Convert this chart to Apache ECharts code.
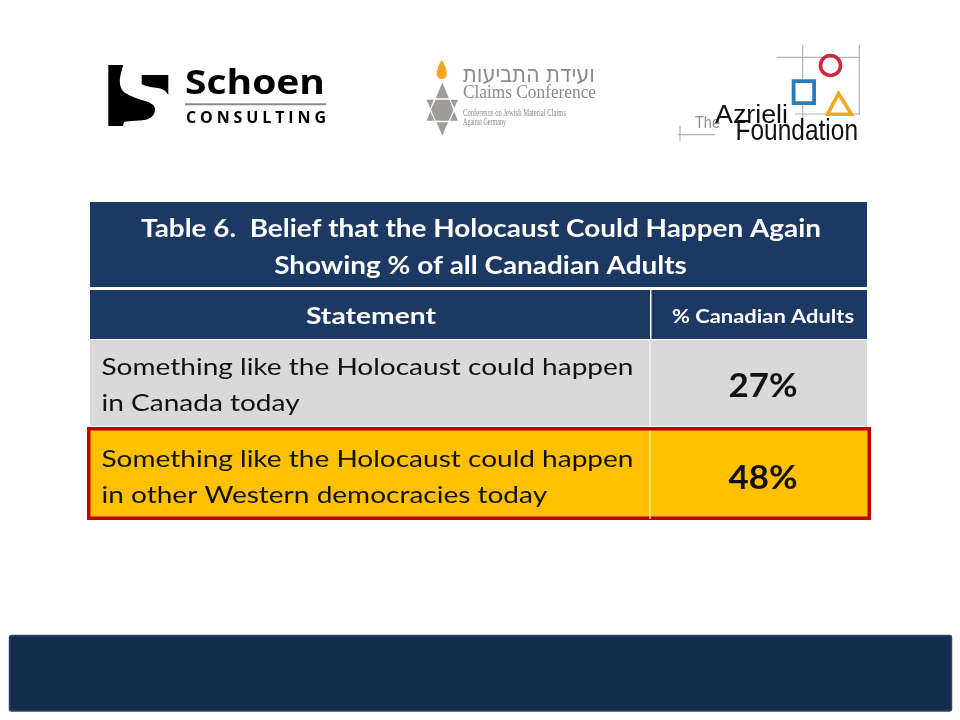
<!DOCTYPE html>
<html>
<head>
<meta charset="utf-8">
<script src="https://cdn.jsdelivr.net/npm/echarts@6/dist/echarts.min.js"></script>
<style>
html,body{margin:0;padding:0;background:#fff;}
#main{width:960px;height:720px;}
</style>
</head>
<body>
<div id="main"></div>
<script>
// ---------------- data ----------------
const titleLines = ['Table 6.  Belief that the Holocaust Could Happen Again', 'Showing % of all Canadian Adults'];
const headerLabels = ['Statement', '% Canadian Adults'];
const statements = [
  'Something like the Holocaust could happen\nin Canada today',
  'Something like the Holocaust could happen\nin other Western democracies today'
];
const percentages = [27, 48];
const highlighted = [0, 1];

// ---------------- helpers (layout only) ----------------
const NAVY = '#1c3963';
const BODY_FONT = 'Lato';
const mctx = document.createElement('canvas').getContext('2d');
function metrics(text, weight, size, family) {
  mctx.font = weight + ' ' + size + 'px ' + family;
  mctx.textBaseline = 'middle';
  return mctx.measureText(text);
}
function fit(o) {
  const ref = o.capRef || 'H';
  const wt = o.weight || 'normal';
  const m100 = metrics(ref, wt, 100, o.family);
  const capPer = (m100.actualBoundingBoxAscent + m100.actualBoundingBoxDescent) / 100;
  const size = o.cap / capPer;
  const mc = metrics(ref, wt, size, o.family);
  const dy = (mc.actualBoundingBoxDescent - mc.actualBoundingBoxAscent) / 2;
  let sx = 1;
  if (o.refWidth) {
    const w = metrics(o.refText || o.text, wt, size, o.family).width;
    sx = o.refWidth / w;
  }
  return {size, sx, dy};
}
function txt(o) {
  const f = fit(o);
  return {
    type: 'text', x: o.x, y: o.y - f.dy, scaleX: f.sx, originX: 0, originY: 0, silent: true, z: o.z || 10,
    style: {
      text: o.text, fill: o.color || '#000', fontSize: f.size, fontFamily: o.family,
      fontWeight: o.weight || 'normal', align: o.align || 'left', verticalAlign: 'middle'
    }
  };
}
function spaced(o) {
  const f = fit({text: o.text, cap: o.cap, family: o.family, weight: o.weight});
  const letters = o.text.split('');
  const ws = letters.map(c => metrics(c, o.weight, f.size, o.family).width);
  const total = ws.reduce((a, b) => a + b, 0);
  const gap = (o.width - total) / (letters.length - 1);
  let x = o.x; const out = [];
  letters.forEach((c, i) => {
    out.push({type: 'text', x: x, y: o.y - f.dy, silent: true, z: 10,
      style: {text: c, fill: o.color, fontSize: f.size, fontFamily: o.family, fontWeight: o.weight, align: 'left', verticalAlign: 'middle'}});
    x += ws[i] + gap;
  });
  return out;
}
// outline builder: segments of ['L',x,y] or ['Q',cx,cy,x,y]
function outline(start, segs) {
  const pts = [start.slice()];
  let cur = start.slice();
  segs.forEach(s => {
    if (s[0] === 'L') { cur = [s[1], s[2]]; pts.push(cur); }
    else {
      for (let t = 1; t <= 12; t++) {
        const u = t / 12, a = (1 - u) * (1 - u), b = 2 * u * (1 - u), c = u * u;
        pts.push([a * cur[0] + b * s[1] + c * s[3], a * cur[1] + b * s[2] + c * s[4]]);
      }
      cur = [s[3], s[4]];
    }
  });
  return pts;
}

// ---------------- logos & frame ----------------
const graphics = [];
// Schoen Consulting
graphics.push({type: 'polygon', silent: true, shape: {points: outline([108.3, 65], [
  ['L', 123.3, 65], ['Q', 121, 72, 120, 78], ['Q', 119, 86, 123, 91], ['Q', 128, 96, 145, 101],
  ['Q', 156, 104, 155, 111], ['Q', 153, 120, 140, 120.5], ['Q', 128, 121, 124, 122], ['L', 123, 126], ['L', 108.3, 126]])},
  style: {fill: '#000'}});
graphics.push({type: 'polygon', silent: true, shape: {points: outline([141.7, 75], [
  ['L', 168.3, 75], ['L', 168.3, 95], ['Q', 165, 89, 158, 88], ['Q', 145, 86.5, 141.7, 84]])},
  style: {fill: '#000'}});
graphics.push(txt({text: 'Schoen', x: 185, y: 82, cap: 25, refWidth: 140, family: "'Open Sans'", weight: 'bold', color: '#000'}));
graphics.push({type: 'line', silent: true, shape: {x1: 185, y1: 104.3, x2: 326, y2: 104.3}, style: {stroke: '#8a8a8a', lineWidth: 2}});
spaced({text: 'CONSULTING', x: 186, y: 117, cap: 11.5, width: 140, family: "'Open Sans'", weight: 'bold', color: '#000'}).forEach(g => graphics.push(g));

// Claims Conference
graphics.push({type: 'polygon', silent: true, shape: {points: outline([441.7, 60], [
  ['Q', 447, 68, 446.7, 74], ['Q', 446, 79, 441.7, 79], ['Q', 437.5, 79, 436.8, 74], ['Q', 436.5, 68, 441.7, 60]])},
  style: {fill: '#f4a51c'}});
const upTri = [[442.3, 80.7], [459, 121.5], [425.5, 121.5]];
const dnTri = [[425.5, 99], [459, 99], [442.3, 137]];
graphics.push({type: 'polygon', silent: true, shape: {points: upTri}, style: {fill: '#a09d98'}});
graphics.push({type: 'polygon', silent: true, shape: {points: dnTri}, style: {fill: '#a09d98'}});
graphics.push({type: 'polygon', silent: true, shape: {points: upTri}, style: {fill: 'none', stroke: '#fff', lineWidth: 1.3}});
graphics.push({type: 'polygon', silent: true, shape: {points: dnTri}, style: {fill: 'none', stroke: '#fff', lineWidth: 1.3}});
graphics.push(txt({text: 'ועידת התביעות', x: 463, y: 75, cap: 13, capRef: 'ה', refWidth: 132, family: "'DejaVu Sans'", color: '#8c8a86'}));
graphics.push(txt({text: 'Claims Conference', x: 463, y: 91.5, cap: 12.5, refWidth: 133, family: "'Liberation Serif'", color: '#8c8a86'}));
graphics.push(txt({text: 'Conference on Jewish Material Claims', x: 463, y: 112.7, cap: 6.5, refWidth: 103, family: "'Liberation Serif'", color: '#8c8a86'}));
graphics.push(txt({text: 'Against Germany', x: 463, y: 121.5, cap: 6.5, refWidth: 43, family: "'Liberation Serif'", color: '#8c8a86'}));

// Azrieli Foundation
[[776.7, 57.3, 859, 57.3], [795, 114, 860, 114], [802.7, 45, 802.7, 125], [859.3, 45, 859.3, 115],
 [678, 134.7, 715, 134.7], [680, 126, 680, 141]].forEach(l => graphics.push({type: 'line', silent: true,
  shape: {x1: l[0], y1: l[1], x2: l[2], y2: l[3]}, style: {stroke: '#b3b3b3', lineWidth: 1.2}}));
graphics.push({type: 'circle', silent: true, shape: {cx: 830.5, cy: 65.5, r: 10}, style: {fill: 'none', stroke: '#d2253f', lineWidth: 3.6}});
graphics.push({type: 'rect', silent: true, shape: {x: 793.6, y: 81.2, width: 20.5, height: 21.9}, style: {fill: '#fff', stroke: '#2b7bb8', lineWidth: 3.8}});
graphics.push({type: 'polygon', silent: true, shape: {points: [[838.5, 93.5], [851.5, 114.3], [827.5, 114.3]]}, style: {fill: 'none', stroke: '#f3a71f', lineWidth: 3.6}});
graphics.push(txt({text: 'The', x: 695, y: 122, cap: 11.7, refWidth: 25, family: "'Liberation Sans'", color: '#8f8f8f'}));
graphics.push(txt({text: 'Azrieli', x: 715, y: 114, cap: 18, refWidth: 73, family: "'Liberation Sans'", color: '#111'}));
graphics.push(txt({text: 'Foundation', x: 735.5, y: 129.7, cap: 20, refWidth: 122.5, family: "'Liberation Sans'", color: '#111'}));

// Table title & header
graphics.push({type: 'rect', silent: true, shape: {x: 90, y: 202, width: 777, height: 85}, style: {fill: NAVY}});
graphics.push({type: 'rect', silent: true, shape: {x: 90, y: 290, width: 560, height: 49}, style: {fill: NAVY}});
graphics.push({type: 'rect', silent: true, shape: {x: 651.5, y: 290, width: 215.5, height: 49}, style: {fill: NAVY}});
graphics.push(txt({text: titleLines[0], x: 481, y: 228, cap: 18, refText: titleLines[0], refWidth: 680, family: BODY_FONT, weight: 'bold', color: '#fff', align: 'center'}));
graphics.push(txt({text: titleLines[1], x: 480.5, y: 265, cap: 18, refText: titleLines[0], refWidth: 680, family: BODY_FONT, weight: 'bold', color: '#fff', align: 'center'}));
graphics.push(txt({text: headerLabels[0], x: 371, y: 315, cap: 16, refWidth: 130, family: BODY_FONT, weight: 'bold', color: '#fff', align: 'center'}));
graphics.push(txt({text: headerLabels[1], x: 763, y: 315.5, cap: 14, refWidth: 182, family: BODY_FONT, weight: 'bold', color: '#fff', align: 'center'}));

// Bottom banner
graphics.push({type: 'rect', silent: true, shape: {x: 9.5, y: 635.5, width: 942, height: 75.5, r: 2}, style: {fill: '#132e4d', stroke: '#2c4769', lineWidth: 1.5}});

// ---------------- body rows (custom series on category axis) ----------------
const COL_FRAC = (650 - 90) / 777;
const stmtFit = fit({text: 'Something like the Holocaust could happen', cap: 17, refWidth: 532, family: BODY_FONT});
const pctFit = fit({text: '27%', cap: 24, refWidth: 69, family: BODY_FONT, weight: 'bold'});

function renderRow(params, api) {
  const i = api.value(0);
  const cs = params.coordSys;
  const c = api.coord([0, i]);
  const bandH = api.size([0, 1])[1];
  const top = c[1] - bandH / 2;
  const mid = c[1];
  const x0 = cs.x, w = cs.width;
  const splitX = x0 + w * COL_FRAC;
  const hl = api.value(2) === 1;
  const children = [];
  if (hl) {
    children.push({type: 'rect', shape: {x: x0 - 1.25, y: top - 1.25, width: w + 3.5, height: bandH - 2.5},
      style: {fill: '#ffc000', stroke: '#c00000', lineWidth: 3.5}});
    children.push({type: 'line', shape: {x1: splitX, y1: top + 1, x2: splitX, y2: top + bandH - 3}, style: {stroke: '#fff2c6', lineWidth: 1.2}});
  } else {
    children.push({type: 'rect', shape: {x: x0, y: top + 2, width: w, height: bandH - 6}, style: {fill: '#d9d9d9'}});
    children.push({type: 'line', shape: {x1: splitX, y1: top + 2, x2: splitX, y2: top + bandH - 4}, style: {stroke: '#f2f2f2', lineWidth: 1.5}});
  }
  const lines = statements[i].split('\n');
  const offs = [-18, 18.5];
  lines.forEach((ln, k) => {
    children.push({type: 'text', x: x0 + 11.5, y: mid + offs[k] - stmtFit.dy, scaleX: stmtFit.sx, originX: 0, originY: 0,
      style: {text: ln, fill: '#111', fontSize: stmtFit.size, fontFamily: BODY_FONT, fontWeight: 'normal', align: 'left', verticalAlign: 'middle'}});
  });
  children.push({type: 'text', x: (splitX + x0 + w) / 2 + 4.5, y: mid + 1 - pctFit.dy, scaleX: pctFit.sx, originX: 0, originY: 0,
    style: {text: api.value(1) + '%', fill: '#111', fontSize: pctFit.size, fontFamily: BODY_FONT, fontWeight: 'bold', align: 'center', verticalAlign: 'middle'}});
  return {type: 'group', children};
}

const chart = echarts.init(document.getElementById('main'), null, {renderer: 'canvas'});
chart.setOption({
  backgroundColor: '#ffffff',
  animation: false,
  grid: {left: 90, right: 93, top: 338, bottom: 198, containLabel: false},
  xAxis: {type: 'value', min: 0, max: 1, show: false},
  yAxis: {type: 'category', data: statements, inverse: true, show: false},
  graphic: graphics,
  series: [{
    type: 'custom',
    renderItem: renderRow,
    data: statements.map((s, i) => [i, percentages[i], highlighted[i]]),
    encode: {y: 0, x: 1},
    silent: true
  }]
});
</script>
</body>
</html>
